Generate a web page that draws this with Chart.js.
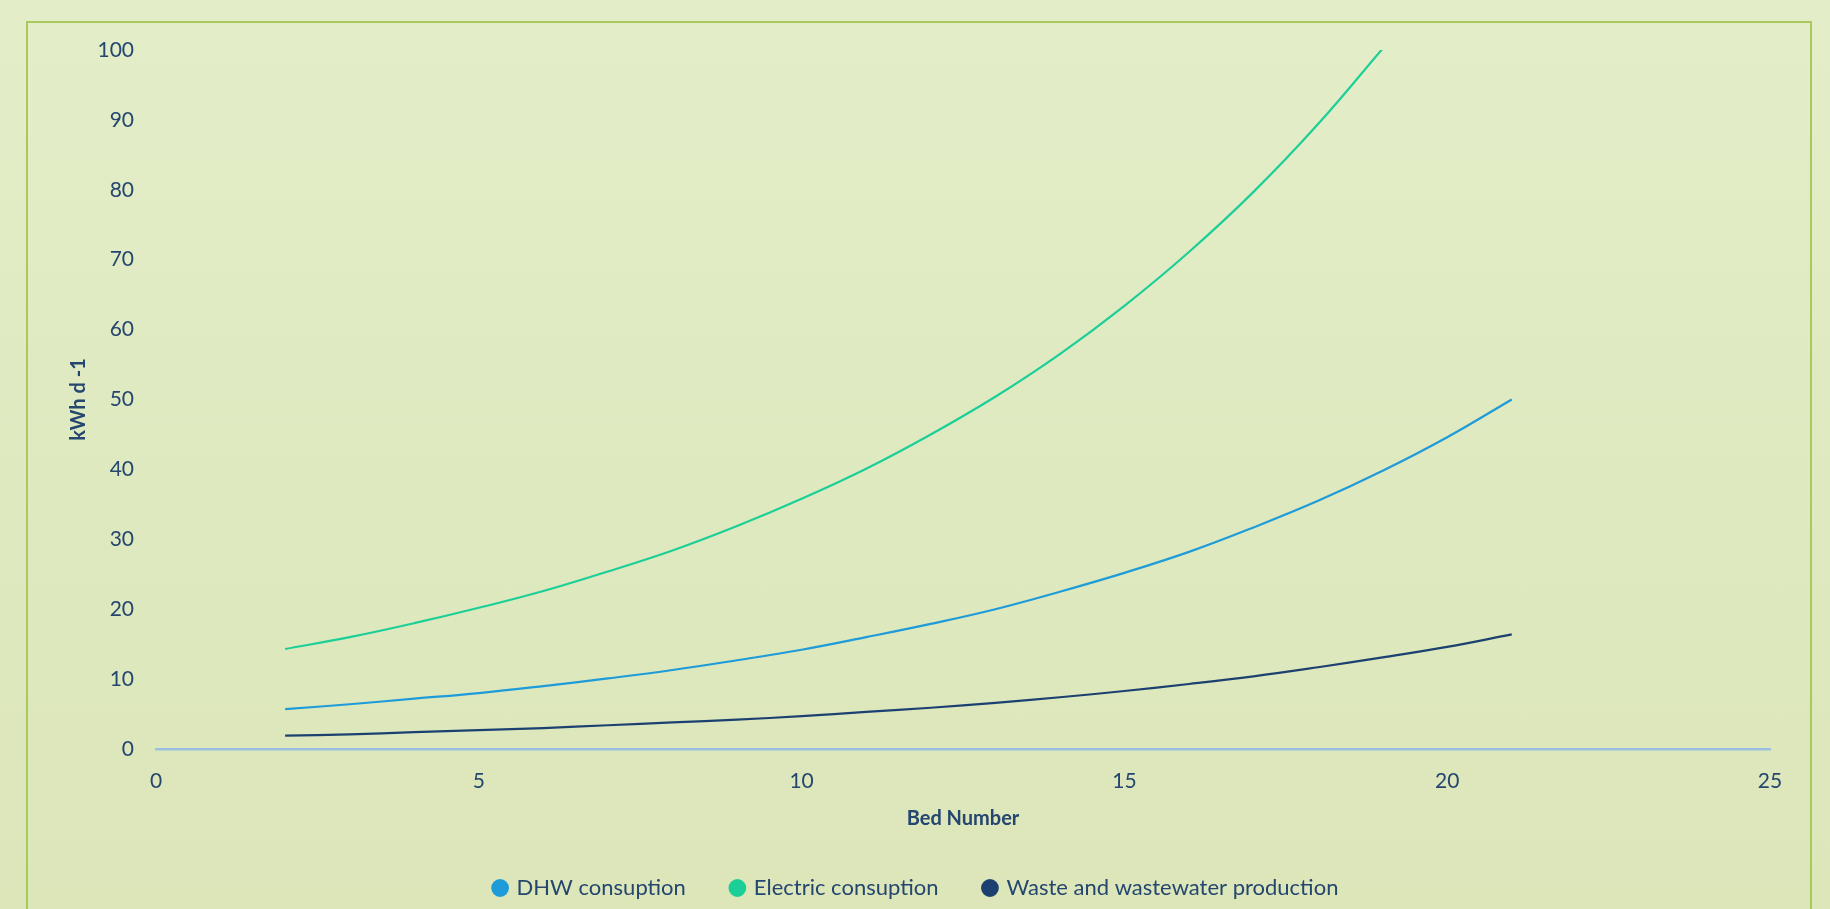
<!DOCTYPE html>
<html>
<head>
<meta charset="utf-8">
<script src="https://cdn.jsdelivr.net/npm/chart.js@4"></script>
<style>
  html, body {
    margin: 0;
    padding: 0;
    width: 1830px;
    height: 909px;
    overflow: hidden;
    background: linear-gradient(#e3edc8, #dce6b9);
  }
  .frame {
    position: absolute;
    left: 26px;
    top: 21px;
    width: 1782px;
    height: 900px;
    border: 2px solid #aac95b;
  }
  .chart_box {
    position: absolute;
    left: 0;
    top: 0;
    width: 1782px;
    height: 886px;
  }
</style>
</head>
<body>
<div class="frame">
  <div class="chart_box"><canvas id="bedChart"></canvas></div>
</div>
<script>
// values
const bedsLong = [2, 3, 4, 5, 6, 7, 8, 9, 10, 11, 12, 13, 14, 15, 16, 17, 18, 19, 20, 21];
const bedsShort = [2, 3, 4, 5, 6, 7, 8, 9, 10, 11, 12, 13, 14, 15, 16, 17, 18, 19];
const dhwValues = [5.7, 6.4, 7.2, 8.0, 9.0, 10.1, 11.3, 12.7, 14.2, 16.0, 17.9, 20.0, 22.5, 25.2, 28.2, 31.7, 35.5, 39.8, 44.6, 50.0];
const electricValues = [14.3, 16.0, 18.0, 20.2, 22.6, 25.4, 28.4, 31.9, 35.8, 40.1, 45.0, 50.4, 56.5, 63.4, 71.1, 79.7, 89.4, 100.2];
const wasteValues = [1.9, 2.1, 2.4, 2.7, 3.0, 3.4, 3.8, 4.2, 4.7, 5.3, 5.9, 6.6, 7.4, 8.3, 9.3, 10.4, 11.7, 13.1, 14.6, 16.4];
const seriesNames = ["DHW consuption", "Electric consuption", "Waste and wastewater production"];
const seriesColors = ["#1e9bd9", "#1ccf97", "#1c4170"];

const textColor = "#24466f";
const fontName = "Lato, 'Noto Sans', sans-serif";

function toPoints(xs, ys) {
  return xs.map((x, i) => ({ x: x, y: ys[i] }));
}

const datasets = [
  toPoints(bedsLong, dhwValues),
  toPoints(bedsShort, electricValues),
  toPoints(bedsLong, wasteValues),
].map((pts, i) => ({
  label: seriesNames[i],
  data: pts,
  borderColor: seriesColors[i],
  backgroundColor: seriesColors[i],
  borderWidth: 2.2,
  pointRadius: 0,
  tension: 0.4,
  fill: false,
}));

const bedChart = document.getElementById("bedChart");
new Chart(bedChart, {
  type: "line",
  data: { datasets: datasets },
  options: {
    responsive: true,
    maintainAspectRatio: false,
    animation: false,
    layout: { padding: { left: 35, top: 27, right: 40, bottom: 0 } },
    plugins: {
      tooltip: { enabled: false },
      legend: {
        position: "bottom",
        labels: {
          usePointStyle: true,
          pointStyle: "circle",
          boxWidth: 11,
          boxHeight: 11,
          padding: 46,
          color: textColor,
          font: { family: fontName, size: 22 },
        },
      },
    },
    scales: {
      x: {
        type: "linear",
        min: 0,
        max: 25,
        ticks: {
          stepSize: 5,
          padding: 20,
          color: textColor,
          font: { family: fontName, size: 21 },
        },
        grid: { display: false, drawTicks: false },
        border: { display: true, color: "#9dbfe2", width: 2.5 },
        title: {
          display: true,
          text: "Bed Number",
          color: textColor,
          font: { family: fontName, size: 20, weight: "bold" },
          padding: { top: 4, bottom: 0 },
        },
        afterFit: (scale) => {
          scale.height = 82;
        },
      },
      y: {
        min: 0,
        max: 100,
        ticks: {
          stepSize: 10,
          padding: 22,
          color: textColor,
          font: { family: fontName, size: 21 },
        },
        grid: { display: false, drawTicks: false },
        border: { display: false },
        title: {
          display: true,
          text: "kWh d -1",
          color: textColor,
          font: { family: fontName, size: 20, weight: "bold" },
          padding: { top: 4, bottom: 4 },
        },
        afterFit: (scale) => {
          scale.width = 93;
          scale.paddingTop = 0;
          scale.paddingBottom = 0;
        },
      },
    },
  },
});
</script>
</body>
</html>
